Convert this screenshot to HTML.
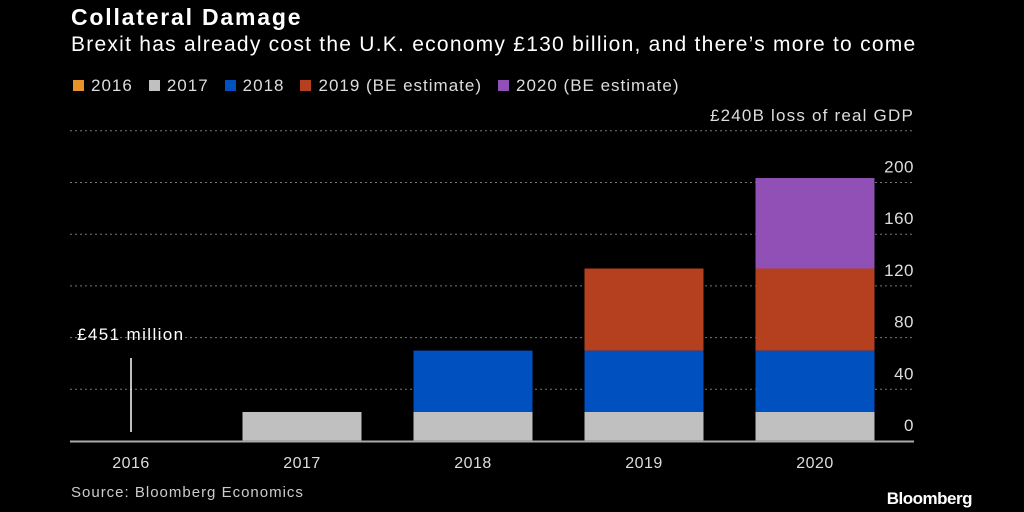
<!DOCTYPE html>
<html><head><meta charset="utf-8"><style>
html,body{margin:0;padding:0;background:#000;}
body{width:1024px;height:512px;overflow:hidden;font-family:"Liberation Sans","DejaVu Sans",sans-serif;color:#fff;position:relative;}
.t{position:absolute;white-space:nowrap;}
</style></head><body>
<div class="t" style="left:71px;top:4px;font-size:23px;font-weight:bold;letter-spacing:1.8px;">Collateral Damage</div>
<div class="t" style="left:71px;top:33px;font-size:21px;letter-spacing:1.25px;">Brexit has already cost the U.K. economy £130 billion, and there’s more to come</div>
<div id="legend" class="t" style="left:73px;top:76px;font-size:17px;color:#ddd;letter-spacing:1px;"></div>
<svg id="chart" width="1024" height="512" style="position:absolute;left:0;top:0;"></svg>
<div class="t" style="left:71px;top:484px;font-size:15px;color:#ccc;letter-spacing:1px;">Source: Bloomberg Economics</div>
<div class="t" style="right:52px;top:489px;font-size:17px;font-weight:bold;letter-spacing:-0.5px;">Bloomberg</div>
<script>
const categories=["2016","2017","2018","2019","2020"];
const seriesNames=["2016","2017","2018","2019 (BE estimate)","2020 (BE estimate)"];
const seriesColors=["#e8922a","#c0c0c0","#0050bf","#b5401f","#9050b5"];
const s2016=[0.451,0.451,0.451,0.451,0.451];
const s2017=[0,22,22,22,22];
const s2018=[0,0,47.5,47.5,47.5];
const s2019=[0,0,0,63.5,63.5];
const s2020=[0,0,0,0,70];
const series=[s2016,s2017,s2018,s2019,s2020];
const ticks=[0,40,80,120,160,200,240];
const tickLabels=["0","40","80","120","160","200","£240B loss of real GDP"];

const NS="http://www.w3.org/2000/svg";
const svg=document.getElementById('chart');
const y0=441,k=1.2925;
const y=v=>y0-v*k;
const x=i=>131+i*171;
const bw=119;
function mk(t,a){const e=document.createElementNS(NS,t);for(const n in a)e.setAttribute(n,a[n]);svg.appendChild(e);return e;}
ticks.forEach((t,i)=>{
 if(t>0){const g=mk('line',{x1:70,x2:914,y1:y(t),y2:y(t),stroke:'#777','stroke-width':1,'stroke-dasharray':'2,3'});
 
 }
 const tx=mk('text',{x:914,y:y(t)-10,'text-anchor':'end','font-size':17,fill:'#ddd','letter-spacing':t===240?1.2:0.5});
 tx.textContent=tickLabels[i];
 
 
});
categories.forEach((c,i)=>{
 let base=0;
 series.forEach((s,j)=>{
  const v=s[i];
  if(v>1){const r=mk('rect',{x:x(i)-bw/2,y:y(base+v),width:bw,height:v*k,fill:seriesColors[j]});
  
  }
  base+=v;
 });
 const t=mk('text',{x:x(i),y:468,'text-anchor':'middle','font-size':16,fill:'#ddd','letter-spacing':0.5});
 t.textContent=c;
 
 
});
const ax=mk('line',{x1:70,x2:914,y1:y0+0.5,y2:y0+0.5,stroke:'#aaa','stroke-width':2});


const al=mk('line',{x1:x(0),x2:x(0),y1:358,y2:432,stroke:'#fff','stroke-width':1.5});


const at=mk('text',{x:77,y:340,'font-size':17,fill:'#fff','letter-spacing':1.4});
at.textContent='£451 million';


const lg=document.getElementById('legend');
seriesNames.forEach((n,j)=>{
 const s=document.createElement('span');
 
 
 s.style.marginRight='16px';
 s.innerHTML='<span style="display:inline-block;width:11px;height:11px;background:'+seriesColors[j]+';margin-right:7px;"></span>'+n;
 lg.appendChild(s);
});
</script>
</body></html>
